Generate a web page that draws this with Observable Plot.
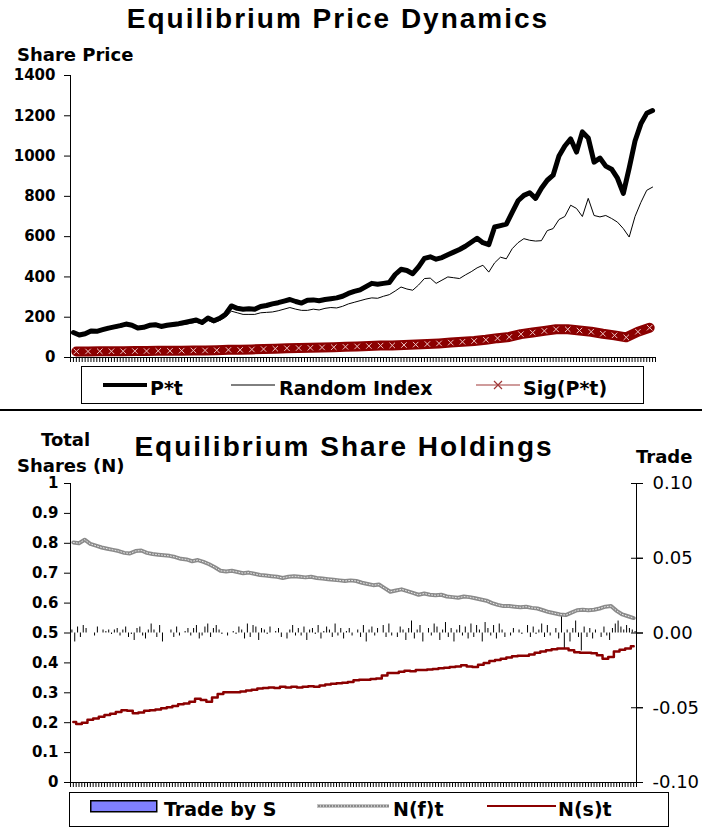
<!DOCTYPE html>
<html><head><meta charset="utf-8">
<script src="https://cdn.jsdelivr.net/npm/d3@7"></script>
<script src="https://cdn.jsdelivr.net/npm/@observablehq/plot@0.6"></script>
<style>
body{margin:0;background:#fff;}
#page{position:relative;width:702px;height:829px;overflow:hidden;background:#fff;font-family:"DejaVu Sans",sans-serif;color:#000;}
.abs{position:absolute;white-space:nowrap;}
.title{font-family:"Liberation Sans",Arial,sans-serif;font-weight:bold;font-size:28px;line-height:28px;letter-spacing:2px;}
.lbl{font-weight:bold;font-size:18px;line-height:18px;}
.box{position:absolute;border:1.5px solid #000;box-sizing:border-box;}
.li{position:absolute;font-weight:bold;font-size:19px;line-height:19px;white-space:nowrap;}
.sw{position:absolute;overflow:visible;}
</style></head><body>
<div id="page">
  <div class="abs title" style="left:0;width:676px;text-align:center;top:5px;">Equilibrium Price Dynamics</div>
  <div class="abs lbl" style="left:17px;top:46px;">Share Price</div>
  <div id="top" class="abs" style="left:0;top:0;"></div>
  <div class="box" style="left:81px;top:366px;width:563px;height:38px;"></div>
  <svg class="sw" style="left:103px;top:380px;" width="44" height="10"><line x1="0" x2="44" y1="5" y2="5" stroke="#000" stroke-width="4"/></svg>
  <div class="li" style="left:150px;top:379px;">P*t</div>
  <svg class="sw" style="left:231px;top:380px;" width="44" height="10"><line x1="0" x2="44" y1="5" y2="5" stroke="#000" stroke-width="1"/></svg>
  <div class="li" style="left:279px;top:379px;">Random Index</div>
  <svg class="sw" style="left:476px;top:380px;" width="44" height="10"><line x1="0" x2="44" y1="5" y2="5" stroke="#a03838" stroke-width="1.2"/><path d="M18,1L26,9M26,1L18,9" stroke="#a03838" stroke-width="1.2"/></svg>
  <div class="li" style="left:523px;top:379px;">Sig(P*t)</div>
  <div class="abs" style="left:0;top:409px;width:702px;height:2px;background:#000;"></div>
  <div class="abs lbl" style="left:41px;top:431px;">Total</div>
  <div class="abs lbl" style="left:17px;top:457px;">Shares (N)</div>
  <div class="abs title" style="left:0;width:688px;text-align:center;top:433px;">Equilibrium Share Holdings</div>
  <div class="abs lbl" style="left:636px;top:448px;">Trade</div>
  <div id="bottom" class="abs" style="left:0;top:420px;"></div>
  <div class="box" style="left:69px;top:792px;width:600px;height:35px;"></div>
  <svg class="sw" style="left:90px;top:800px;" width="68" height="13"><rect x="0.75" y="0.75" width="66" height="11" fill="#8080ff" stroke="#000" stroke-width="1.5"/></svg>
  <div class="li" style="left:164px;top:800px;">Trade by S</div>
  <svg class="sw" style="left:317px;top:801px;" width="72" height="10"><line x1="0" x2="72" y1="5" y2="5" stroke="#8a8a8a" stroke-width="3"/><line x1="0" x2="72" y1="5" y2="5" stroke="#fff" stroke-width="1" stroke-dasharray="1 2"/></svg>
  <div class="li" style="left:393px;top:800px;">N(f)t</div>
  <svg class="sw" style="left:487px;top:801px;" width="69" height="10"><line x1="0" x2="69" y1="5" y2="5" stroke="#8b0000" stroke-width="2"/></svg>
  <div class="li" style="left:558px;top:800px;">N(s)t</div>
</div>
<script>
// ---- Top chart data (100 samples across 200 periods) ----
const priceP = [124,112,118,132,130,138,146,152,158,166,
160,146,150,160,163,154,160,164,168,174,
180,186,174,196,182,195,215,256,244,240,
242,240,253,258,266,272,280,288,278,270,
284,286,282,288,292,296,304,318,328,336,
352,368,364,368,372,412,438,432,416,450,
492,500,488,496,510,523,536,552,572,592,
570,560,648,655,662,720,778,805,818,790,
840,880,905,1000,1050,1085,1020,1120,1090,970,
990,950,935,890,815,940,1075,1160,1212,1226];
const randomIndex = [118,108,114,126,126,132,140,146,150,158,
154,140,144,152,155,148,153,156,160,164,
170,175,166,184,172,184,200,230,222,214,
214,214,222,224,226,232,240,248,240,234,
234,240,236,244,248,246,254,266,274,282,
290,296,294,304,312,330,350,340,334,360,
392,394,368,384,400,396,392,410,426,445,
458,424,470,498,490,540,570,590,582,578,
580,630,640,685,700,756,740,700,790,705,
698,705,690,672,640,598,700,770,830,846];
const sigP = [30,30,31,31,31,32,32,33,33,34,
35,35,36,38,38,40,42,44,46,47,
48,50,51,53,55,57,59,60,62,64,
67,70,74,78,82,88,96,102,116,124,
132,140,140,134,128,118,110,100,128,148];
const priceTicks = [0,200,400,600,800,1000,1200,1400];

// ---- Bottom chart data ----
const nF = [0.803,0.800,0.812,0.798,0.792,0.786,0.782,0.778,0.774,0.768,
0.766,0.774,0.776,0.768,0.764,0.762,0.760,0.758,0.754,0.748,
0.746,0.740,0.744,0.738,0.730,0.720,0.708,0.706,0.708,0.704,
0.700,0.702,0.698,0.694,0.692,0.690,0.688,0.684,0.688,0.690,
0.688,0.686,0.688,0.684,0.682,0.680,0.678,0.676,0.674,0.676,
0.674,0.668,0.664,0.660,0.662,0.650,0.638,0.642,0.646,0.640,
0.634,0.628,0.632,0.628,0.626,0.628,0.622,0.620,0.618,0.622,
0.620,0.616,0.612,0.608,0.600,0.594,0.590,0.590,0.588,0.586,
0.588,0.584,0.582,0.576,0.570,0.566,0.562,0.560,0.568,0.576,
0.578,0.576,0.578,0.582,0.588,0.590,0.574,0.562,0.556,0.550];
const nS = [0.202,0.196,0.200,0.210,0.214,0.220,0.226,0.230,0.236,0.242,
0.240,0.232,0.234,0.240,0.242,0.244,0.248,0.252,0.256,0.262,
0.264,0.270,0.280,0.276,0.270,0.284,0.296,0.302,0.302,0.302,
0.304,0.308,0.310,0.314,0.316,0.318,0.316,0.320,0.318,0.320,
0.318,0.320,0.322,0.320,0.324,0.328,0.330,0.332,0.334,0.336,
0.342,0.344,0.344,0.346,0.348,0.358,0.366,0.366,0.370,0.374,
0.372,0.376,0.376,0.378,0.380,0.382,0.384,0.386,0.388,0.392,
0.388,0.386,0.394,0.400,0.406,0.410,0.414,0.418,0.422,0.424,
0.424,0.428,0.434,0.438,0.442,0.446,0.448,0.448,0.442,0.436,
0.434,0.434,0.432,0.426,0.414,0.420,0.438,0.444,0.448,0.456];
// trade by S, in thousandths of a share, one per period
const tradeS = [2,-6,4,-3,5,3,0,0,-2,4,0,2,1,2,-1,2,3,-2,2,4,
-3,-1,-5,3,4,-2,-4,2,6,2,-3,5,-6,0,0,2,-3,4,-2,0,
1,3,-2,3,5,-4,-2,4,6,-3,3,5,2,-1,0,-2,0,1,-1,4,
2,-4,6,-3,5,4,-5,3,2,-1,4,0,1,3,-3,0,-4,2,5,-2,
3,-2,4,-5,2,3,-1,5,-4,1,4,2,-3,6,-2,3,-4,1,3,-2,
0,2,-3,5,-6,2,4,-2,3,0,5,-3,6,-2,0,-3,4,2,-5,3,
8,-4,2,5,-6,0,3,-2,6,4,-5,2,7,-3,3,-6,2,5,-2,4,
-4,6,-3,5,2,-6,7,3,-2,5,-4,6,2,-3,0,-2,3,0,2,-1,
0,5,-3,4,-1,2,6,-3,5,-2,0,3,-4,12,-11,2,-6,3,8,-3,
-12,4,-3,3,-4,2,0,-3,4,-2,-5,3,6,8,4,2,5,3,2,1];
const shareTicks = [0,0.1,0.2,0.3,0.4,0.5,0.6,0.7,0.8,0.9,1];
const tradeTicks = [-0.10,-0.05,0,0.05,0.10];

const PERIODS = 200;
const periodTicks = d3.range(0, PERIODS + 1);
const place = (arr) => arr.map((v, i) => ({x: (i + 0.5) * PERIODS / arr.length, v}));

const topLines = priceP.map((v, i) => ({x: (i + 0.5) * PERIODS / priceP.length, p: v, r: randomIndex[i]}));
const sigData = place(sigP);

const baseStyle = {fontFamily: "DejaVu Sans", fontSize: "15px", fontWeight: "bold", color: "#000", background: "transparent", overflow: "visible"};

const topPlot = Plot.plot({
  width: 702, height: 365, marginTop: 75, marginBottom: 8, marginLeft: 70, marginRight: 47,
  style: baseStyle,
  x: {domain: [0, PERIODS]},
  y: {domain: [0, 1400]},
  marks: [
    Plot.axisY({ticks: priceTicks, tickSize: 6, tickPadding: 9, tickFormat: d => String(d), label: null}),
    Plot.axisX({ticks: periodTicks, tickSize: 5, tickFormat: () => "", label: null}),
    Plot.ruleX([0]),
    Plot.ruleY([0]),
    Plot.line(sigData, {x: "x", y: "v", stroke: "#8b0000", strokeWidth: 10}),
    Plot.dot(sigData, {x: "x", y: "v", symbol: "times", r: 2.6, stroke: "#f0c4c4", strokeWidth: 1}),
    Plot.line(topLines, {x: "x", y: "r", stroke: "#000", strokeWidth: 1}),
    Plot.line(topLines, {x: "x", y: "p", stroke: "#000", strokeWidth: 5, strokeLinejoin: "round"})
  ]
});
document.getElementById("top").appendChild(topPlot);

// trade values share the frame with holdings: -0.10..0.10 sits on 0..1
const tradeToY = t => 0.5 + t * 5;
const tradeData = tradeS.map((v, i) => ({x: i + 0.5, t: v / 1000}));
const shareData = nF.map((v, i) => ({x: (i + 0.5) * PERIODS / nF.length, f: v, s: nS[i]}));

const bottomPlot = Plot.plot({
  width: 702, height: 372, marginTop: 63, marginBottom: 10, marginLeft: 70, marginRight: 66,
  style: baseStyle,
  x: {domain: [0, PERIODS]},
  y: {domain: [0, 1]},
  marks: [
    Plot.axisY({ticks: shareTicks, tickSize: 6, tickPadding: 6, tickFormat: d => (d === 0 || d === 1) ? String(d) : d.toFixed(1), label: null}),
    Plot.axisY({anchor: "right", ticks: tradeTicks.map(tradeToY), tickSize: 6, tickPadding: 10, fontWeight: "normal", fontSize: 18,
      tickFormat: v => ((v - 0.5) / 5).toFixed(2), label: null}),
    Plot.axisY({anchor: "right", ticks: tradeTicks.map(tradeToY), tickSize: 12, dx: -6, tickFormat: () => "", label: null}),
    Plot.axisX({ticks: periodTicks, tickSize: 5, tickFormat: () => "", label: null}),
    Plot.ruleX([0]),
    Plot.ruleX([PERIODS]),
    Plot.ruleY([0]),
    Plot.ruleX(tradeData, {x: "x", y1: () => tradeToY(0), y2: d => tradeToY(d.t), stroke: "#000", strokeWidth: 1}),
    Plot.line(shareData, {x: "x", y: "f", stroke: "#8a8a8a", strokeWidth: 4}),
    Plot.line(shareData, {x: "x", y: "f", stroke: "#fff", strokeWidth: 1, strokeDasharray: "1 2", strokeOpacity: 0.8}),
    Plot.line(shareData, {x: "x", y: "s", stroke: "#8b0000", strokeWidth: 2.5, curve: "step"})
  ]
});
document.getElementById("bottom").appendChild(bottomPlot);
</script>
</body></html>
